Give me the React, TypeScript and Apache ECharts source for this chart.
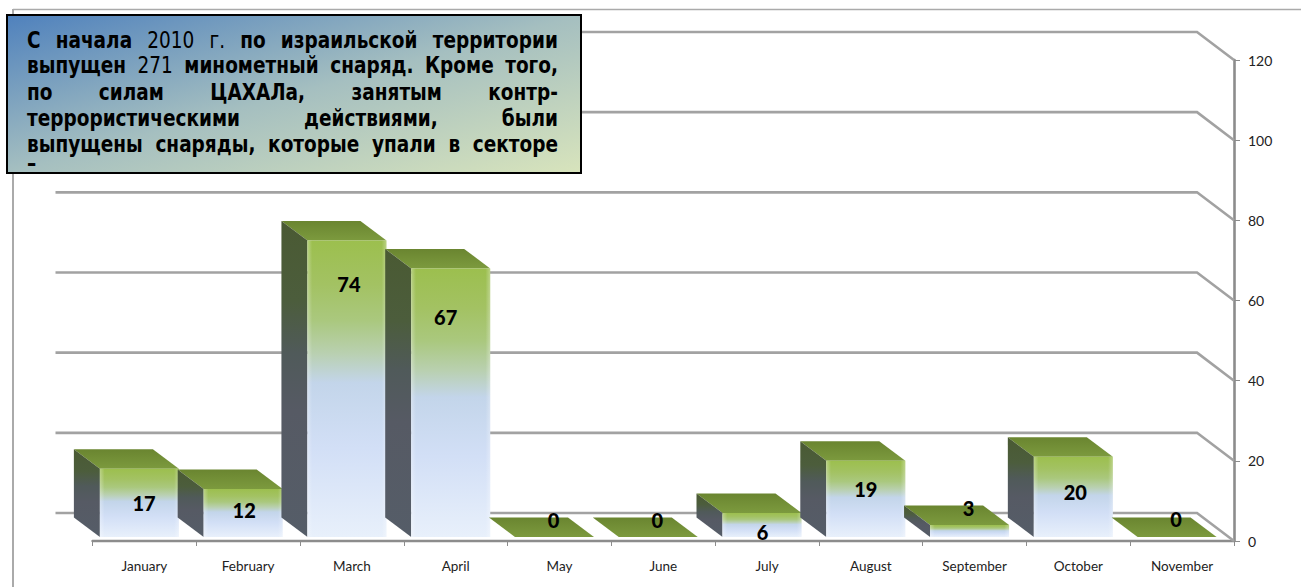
import React, { useEffect, useRef } from "react";
import * as echarts from "echarts";

const categories = ["January", "February", "March", "April", "May", "June", "July", "August", "September", "October", "November"];
const values = [17, 12, 74, 67, 0, 0, 6, 19, 3, 20, 0];
const yTicks = [0, 20, 40, 60, 80, 100, 120];
const noteLines = [
  "С начала 2010 г. по израильской территории",
  "выпущен 271 минометный снаряд. Кроме того,",
  "по силам ЦАХАЛа, занятым контр-",
  "террористическими действиями, были",
  "выпущены снаряды, которые упали в секторе",
  "–",
];

const W = 1301, H = 587;
const WALL_DX = 37, WALL_DY = 28;
const BAR_DX = 26, BAR_DY = 19.5;
const FRONT_SHIFT_X = -5, FRONT_SHIFT_Y = -4;
const BAR_WIDTH = 79;
const LABEL_DX = [-0.4, -4, -3, -10, -6, -6, -4.5, -5, -6, -3, -6];
const LABEL_AT = [9.5, 7.7, 64, 56, 5.2, 5.2, 2.2, 13, 8.2, 12.2, 5.5];

const grad = (x2: number, y2: number, stops: [number, string][], x = 0, y = 0) =>
  new echarts.graphic.LinearGradient(x, y, x2, y2, stops.map(([offset, color]) => ({ offset, color })));

const renderWall = (params: any, api: any) => {
  const half = api.size([1, 0])[0] / 2;
  const [x0, y] = api.coord([0, api.value(0)]);
  const [xN] = api.coord([categories.length - 1, api.value(0)]);
  const xL = x0 - half, xR = xN + half;
  return {
    type: "polyline",
    shape: { points: [[xL - WALL_DX, y - WALL_DY], [xR - WALL_DX, y - WALL_DY], [xR, y]] },
    style: { stroke: "#a2a2a2", lineWidth: 2.6, fill: "none" },
  };
};

const renderBar = (params: any, api: any) => {
  const [cx] = api.coord([api.value(0), 0]);
  const [, y0Raw] = api.coord([0, 0]);
  const [, yTopRaw] = api.coord([0, api.value(1)]);
  const l = cx + FRONT_SHIFT_X - BAR_WIDTH / 2;
  const r = l + BAR_WIDTH;
  const b = y0Raw + FRONT_SHIFT_Y;
  const t = yTopRaw + FRONT_SHIFT_Y;
  const children: any[] = [];
  children.push({
    type: "polygon",
    shape: { points: [[l, t], [r, t], [r - BAR_DX, t - BAR_DY], [l - BAR_DX, t - BAR_DY]] },
    style: { fill: grad(0, 1, [[0, "#6a8530"], [1, "#7c9a3e"]]) },
  });
  if (b - t > 0.5) {
    children.push({
      type: "polygon",
      shape: { points: [[l, t], [l, b], [l - BAR_DX, b - BAR_DY], [l - BAR_DX, t - BAR_DY]] },
      style: { fill: grad(0, 1, [[0, "#4a5a33"], [0.25, "#4c5d3c"], [0.42, "#505a5a"], [0.6, "#565a64"], [1, "#555d68"]]) },
    });
    children.push({
      type: "rect",
      shape: { x: l, y: t, width: BAR_WIDTH, height: b - t },
      style: { fill: grad(0, 1, [[0, "#9cbf4e"], [0.15, "#a3c263"], [0.27, "#aac87e"], [0.38, "#b9d0b0"], [0.48, "#c3d5ea"], [0.7, "#d2dff6"], [1, "#e8f0fb"]]) },
    });
    children.push({
      type: "rect",
      shape: { x: l, y: t, width: BAR_WIDTH, height: b - t },
      style: { fill: grad(1, 0, [[0, "rgba(255,255,255,0.3)"], [0.06, "rgba(255,255,255,0)"], [0.94, "rgba(255,255,255,0)"], [1, "rgba(255,255,255,0.3)"]]) },
    });
  }
  return { type: "group", children };
};

const renderLabel = (params: any, api: any) => {
  const i = api.value(0);
  const [x, y] = api.coord([i, LABEL_AT[i]]);
  return {
    type: "text",
    style: {
      text: String(api.value(1)),
      x: x + LABEL_DX[i],
      y,
      align: "center",
      verticalAlign: "middle",
      fill: "#000",
      font: "900 20px Lato",
    },
  };
};

function noteGraphic() {
  const ctx = document.createElement("canvas").getContext("2d")!;
  const fontFor = (w: string) => (/^\d+$|^г\.$/.test(w) ? "18.5px 'DejaVu Sans'" : "bold 18.5px 'DejaVu Sans'");
  const left = 27, right = 558;
  const ys = [40, 65, 92, 118, 144, 163];
  const out: any[] = [];
  noteLines.forEach((line, li) => {
    const words = line.split(" ");
    const widths = words.map((w) => {
      ctx.font = fontFor(w);
      return ctx.measureText(w).width;
    });
    const total = widths.reduce((a, b) => a + b, 0);
    const gap = words.length > 1 ? (right - left - total) / (words.length - 1) : 0;
    let x = left;
    words.forEach((w, i) => {
      out.push({
        type: "text",
        z: 101,
        x,
        y: ys[li],
        scaleY: 1.2,
        style: { text: w, x: 0, y: 0, font: fontFor(w), fill: "#000", verticalAlign: "middle", align: "left" },
      });
      x += widths[i] + gap;
    });
  });
  return out;
}

export default function App() {
  const ref = useRef<HTMLDivElement>(null);
  useEffect(() => {
    if (!ref.current) return;
    const chart = echarts.init(ref.current, undefined, { renderer: "svg" });
    chart.setOption({
      animation: false,
      backgroundColor: "#fff",
      grid: { left: 92.5, right: W - 1234, top: 60, bottom: H - 541 },
      xAxis: {
        type: "category",
        data: categories,
        boundaryGap: true,
        axisLine: { lineStyle: { color: "#8c8c8c", width: 2.4 } },
        axisTick: { show: true, length: 5, lineStyle: { color: "#8c8c8c", width: 1 } },
        axisLabel: { margin: 18, color: "#222", fontFamily: "Lato", fontSize: 13.5, interval: 0 },
      },
      yAxis: {
        type: "value",
        position: "right",
        min: 0,
        max: 120,
        interval: 20,
        splitLine: { show: false },
        axisLine: { show: true, lineStyle: { color: "#8c8c8c", width: 2.6 } },
        axisTick: { show: true, length: 6, lineStyle: { color: "#8c8c8c", width: 1 } },
        axisLabel: { margin: 14, color: "#222", fontFamily: "Lato", fontSize: 14 },
      },
      series: [
        { type: "custom", name: "wall", z: 1, silent: true, data: yTicks.map((v) => [v]), encode: { y: 0 }, renderItem: renderWall },
        { type: "custom", name: "bars", z: 2, silent: true, data: values.map((v, i) => [i, v]), encode: { x: 0, y: 1 }, renderItem: renderBar },
        { type: "custom", name: "labels", z: 3, silent: true, data: values.map((v, i) => [i, v]), encode: { x: 0, y: 1 }, renderItem: renderLabel },
      ],
      graphic: [
        { type: "line", z: 0, shape: { x1: 13, y1: 9.5, x2: W, y2: 9.5 }, style: { stroke: "#aaaaaa", lineWidth: 1.5 } },
        { type: "line", z: 0, shape: { x1: 13, y1: 9, x2: 13, y2: H }, style: { stroke: "#aaaaaa", lineWidth: 2 } },
        {
          type: "rect",
          z: 100,
          shape: { x: 7, y: 15, width: 574, height: 158 },
          style: {
            fill: grad(1, 1, [[0, "#4f81bd"], [0.5, "#a5bfc0"], [1, "#d8e4bc"]]),
            stroke: "#000",
            lineWidth: 2,
          },
        },
        ...noteGraphic(),
      ],
    });
    return () => chart.dispose();
  }, []);
  return <div ref={ref} style={{ position: "absolute", left: 0, top: 0, width: W, height: H }} />;
}
